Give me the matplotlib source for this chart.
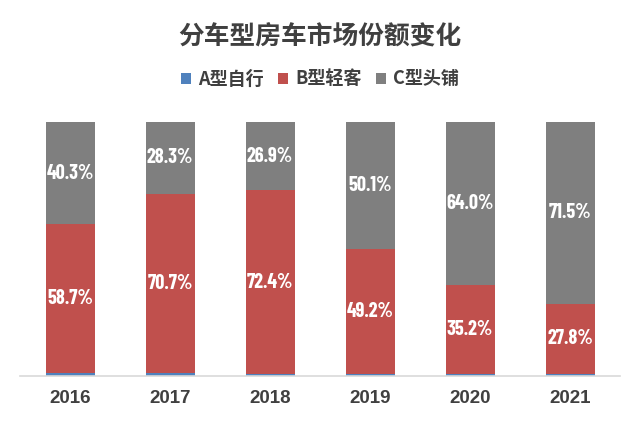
import numpy as np
import matplotlib
matplotlib.use("Agg")
import matplotlib.pyplot as plt

plt.rcParams['font.family'] = ['Noto Sans CJK SC', 'DejaVu Sans']

years = ['2016', '2017', '2018', '2019', '2020', '2021']
series_names = ['A型自行', 'B型轻客', 'C型头铺']
a_share = [1.0, 1.0, 0.7, 0.7, 0.8, 0.7]
b_share = [58.7, 70.7, 72.4, 49.2, 35.2, 27.8]
c_share = [40.3, 28.3, 26.9, 50.1, 64.0, 71.5]
colors = ['#4F81BD', '#C0504D', '#7F7F7F']

fig = plt.figure(figsize=(6.4, 4.26), dpi=100)
ax = fig.add_axes([20 / 640, 1 - 376 / 426, 600 / 640, 254 / 426])

x = np.arange(len(years))
bottom = np.zeros(len(years))
for name, vals, col in zip(series_names, [a_share, b_share, c_share], colors):
    vals = np.array(vals)
    ax.bar(x, vals, 0.49, bottom=bottom, color=col, label=name)
    if name != 'A型自行':
        for xi, b, v in zip(x, bottom, vals):
            ax.text(xi, b + v / 2, '%.1f%%' % v, ha='center', va='center',
                    color='white', fontsize=14.5, fontweight='bold',
                    family=['Barlow Condensed', 'DejaVu Sans'])
    bottom += vals

ax.set_xlim(-0.5, 5.5)
ax.set_ylim(0, 100)
for s in ['top', 'right', 'left']:
    ax.spines[s].set_visible(False)
ax.spines['bottom'].set_color('#D9D9D9')
ax.spines['bottom'].set_linewidth(1.2)
ax.set_yticks([])
ax.set_xticks(x)
ax.set_xticklabels(years, fontsize=13.5, fontweight='bold', color='#404040',
                   family='Liberation Sans')
ax.tick_params(axis='x', length=0, pad=10)

fig.text(0.5, 1 - 37 / 426, '分车型房车市场份额变化', ha='center', va='center',
         fontsize=18.5, fontweight='bold', color='#404040')
fig.legend(loc='center', bbox_to_anchor=(0.5, 1 - 79 / 426), ncol=3, frameon=False,
           prop={'size': 13, 'weight': 'bold'}, handlelength=0.55, handleheight=0.55,
           handletextpad=0.4, columnspacing=0.8, labelcolor='#404040')

fig.savefig('out.png', dpi=100)
